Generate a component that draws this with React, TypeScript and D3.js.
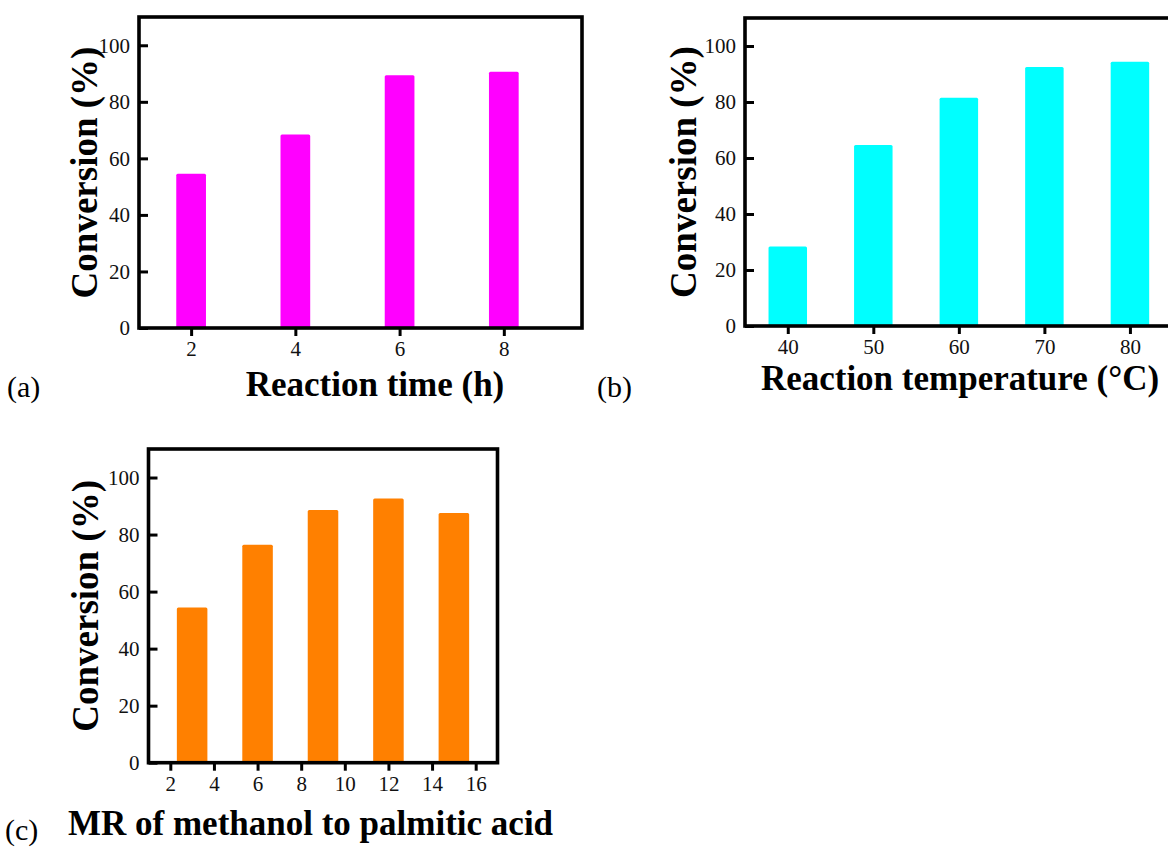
import React, { useRef, useEffect } from 'react';
import * as d3 from 'd3';

// panel (a): reaction time
const timeHours = [2, 4, 6, 8];
const timeConversion = [54.6, 68.4, 89.4, 90.6];
const timeTicks = [2, 4, 6, 8];

// panel (b): reaction temperature
const tempC = [40, 50, 60, 70, 80];
const tempConversion = [28.4, 64.6, 81.5, 92.5, 94.4];
const tempTicks = [40, 50, 60, 70, 80];

// panel (c): molar ratio
const molarRatio = [3, 6, 9, 12, 15];
const ratioConversion = [54.4, 76.4, 88.6, 92.6, 87.6];
const ratioTicks = [2, 4, 6, 8, 10, 12, 14, 16];

const yTicks = [0, 20, 40, 60, 80, 100];

const FONT = "'Liberation Serif', 'Times New Roman', serif";

const panels = [
  {
    xs: timeHours, ys: timeConversion, ticks: timeTicks, color: '#ff00ff',
    xDomain: [1, 9.5], barW: 0.57,
    box: { left: 139, right: 582, top: 17, bottom: 328 },
    xTitle: 'Reaction time (h)', titleX: 375, titleY: 396,
    yLabelX: 97, label: '(a)', labelX: 7, labelY: 397,
  },
  {
    xs: tempC, ys: tempConversion, ticks: tempTicks, color: '#00ffff',
    xDomain: [35, 85], barW: 4.5,
    box: { left: 745, right: 1172.7, top: 18, bottom: 326 },
    xTitle: 'Reaction temperature (°C)', titleX: 960, titleY: 390,
    yLabelX: 696, label: '(b)', labelX: 597, labelY: 397,
  },
  {
    xs: molarRatio, ys: ratioConversion, ticks: ratioTicks, color: '#ff8000',
    xDomain: [1, 17], barW: 1.4,
    box: { left: 148.5, right: 497.5, top: 449, bottom: 762.7 },
    xTitle: 'MR of methanol to palmitic acid', titleX: 68, titleY: 835, titleAnchor: 'start',
    yLabelX: 98, label: '(c)', labelX: 5, labelY: 840,
  },
];

const App = () => {
  const svgRef = useRef(null);

  useEffect(() => {
    const svg = d3.select(svgRef.current);
    svg.selectAll('*').remove();

    panels.forEach((p) => {
      const { left, right, top, bottom } = p.box;
      const x = d3.scaleLinear().domain(p.xDomain).range([left, right]);
      const y = d3.scaleLinear().domain([0, 110]).range([bottom, top]);
      const g = svg.append('g');

      const halfW = (x(p.xDomain[0] + p.barW) - x(p.xDomain[0])) / 2;
      g.selectAll('.bar')
        .data(p.xs)
        .enter()
        .append('rect')
        .attr('x', (d) => x(d) - halfW)
        .attr('width', halfW * 2)
        .attr('y', (d, i) => y(p.ys[i]))
        .attr('height', (d, i) => y(0) - y(p.ys[i]))
        .attr('rx', 1.5)
        .style('fill', p.color);

      // x axis, ticks pointing out
      const xa = g.append('g')
        .attr('transform', `translate(0,${bottom})`)
        .call(d3.axisBottom(x).tickValues(p.ticks).tickSizeInner(8).tickSizeOuter(0).tickPadding(5));
      // y axis, ticks pointing in
      const ya = g.append('g')
        .attr('transform', `translate(${left},0)`)
        .call(d3.axisLeft(y).tickValues(yTicks).tickSizeInner(-9).tickSizeOuter(0).tickPadding(9));

      [xa, ya].forEach((a) => {
        a.select('.domain').remove();
        a.selectAll('line').attr('stroke', '#000').attr('stroke-width', 3);
        a.selectAll('text')
          .attr('fill', '#111')
          .style('font-family', FONT)
          .style('font-size', '21px');
      });

      g.append('rect')
        .attr('x', left)
        .attr('y', top)
        .attr('width', right - left)
        .attr('height', bottom - top)
        .attr('fill', 'none')
        .attr('stroke', '#000')
        .attr('stroke-width', 3.6);

      g.append('text')
        .attr('transform', `translate(${p.yLabelX},${(top + bottom) / 2}) rotate(-90)`)
        .attr('text-anchor', 'middle')
        .style('font-family', FONT)
        .style('font-weight', 'bold')
        .style('font-size', '37px')
        .text('Conversion (%)');

      g.append('text')
        .attr('x', p.titleX)
        .attr('y', p.titleY)
        .attr('text-anchor', p.titleAnchor || 'middle')
        .style('font-family', FONT)
        .style('font-weight', 'bold')
        .style('font-size', '35px')
        .text(p.xTitle);

      g.append('text')
        .attr('x', p.labelX)
        .attr('y', p.labelY)
        .style('font-family', FONT)
        .style('font-size', '30px')
        .text(p.label);
    });
  }, []);

  return (
    <svg
      ref={svgRef}
      width={1168}
      height={847}
      style={{ position: 'absolute', left: 0, top: 0, background: '#fff' }}
    ></svg>
  );
};

export default App;
